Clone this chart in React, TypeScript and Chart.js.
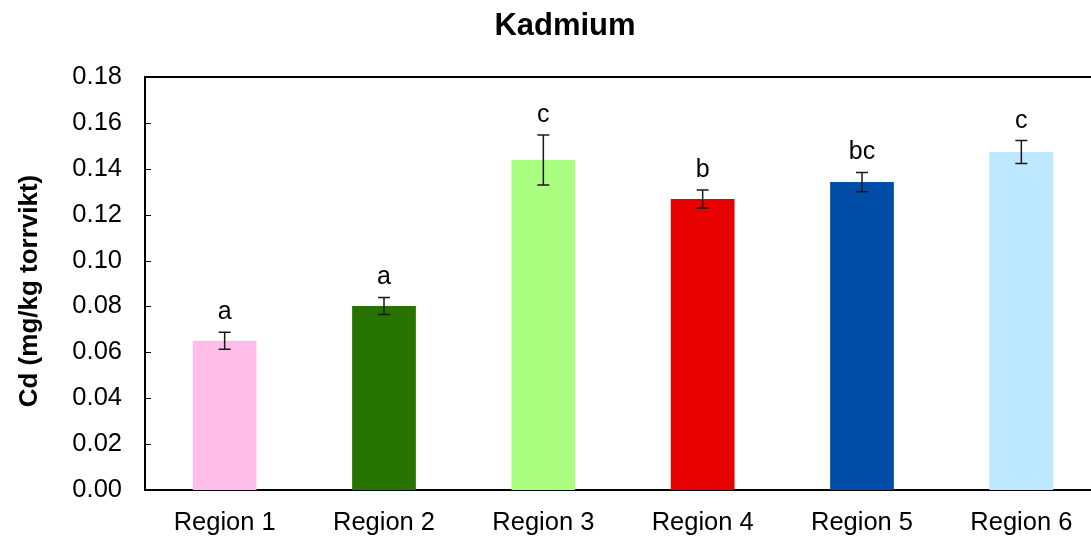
import React, { useEffect, useRef } from "react";
import { Chart, registerables } from "chart.js";

Chart.register(...registerables);

const regions = ["Region 1", "Region 2", "Region 3", "Region 4", "Region 5", "Region 6"];
const means = [0.065, 0.0802, 0.1438, 0.1268, 0.1342, 0.1473];
const errors = [0.0037, 0.0037, 0.0109, 0.0039, 0.0042, 0.005];
const letters = ["a", "a", "c", "b", "bc", "c"];
const barColors = ["#FFBEE8", "#267300", "#AAFF80", "#E60000", "#004DA8", "#BEE8FF"];
const yTicks = [0, 0.02, 0.04, 0.06, 0.08, 0.1, 0.12, 0.14, 0.16, 0.18];

const FONT = "'Liberation Sans', Arial, Helvetica, sans-serif";

const decorPlugin = {
  id: "decor",
  afterDatasetsDraw(chart: any) {
    const ctx = chart.ctx;
    const ys = chart.scales.y;
    const area = chart.chartArea;
    const meta = chart.getDatasetMeta(0);
    ctx.save();
    // frame top/right
    ctx.strokeStyle = "#000";
    ctx.lineWidth = 2;
    ctx.beginPath();
    ctx.moveTo(area.left, area.top);
    ctx.lineTo(area.right, area.top);
    ctx.lineTo(area.right, area.bottom);
    ctx.stroke();
    // inner ticks on y
    ctx.lineWidth = 1;
    yTicks.forEach((v) => {
      const y = Math.round(ys.getPixelForValue(v)) + 0.5;
      ctx.beginPath();
      ctx.moveTo(area.left, y);
      ctx.lineTo(area.left + 6, y);
      ctx.stroke();
    });
    // error bars and letters
    meta.data.forEach((el: any, i: number) => {
      const x = el.x;
      const yt = ys.getPixelForValue(means[i] + errors[i]);
      const yb = ys.getPixelForValue(means[i] - errors[i]);
      ctx.strokeStyle = "#1a1a1a";
      ctx.lineWidth = 1.5;
      ctx.beginPath();
      ctx.moveTo(x, yt);
      ctx.lineTo(x, yb);
      ctx.moveTo(x - 6, yt);
      ctx.lineTo(x + 6, yt);
      ctx.moveTo(x - 6, yb);
      ctx.lineTo(x + 6, yb);
      ctx.stroke();
      ctx.fillStyle = "#000";
      ctx.font = `25px ${FONT}`;
      ctx.textAlign = "center";
      ctx.textBaseline = "alphabetic";
      ctx.fillText(letters[i], x, yt - 13);
    });
    // title
    ctx.fillStyle = "#000";
    ctx.font = `bold 31px ${FONT}`;
    ctx.textAlign = "center";
    ctx.textBaseline = "middle";
    ctx.fillText("Kadmium", 565, 26);
    // y title
    ctx.font = `bold 26px ${FONT}`;
    ctx.translate(30, 291);
    ctx.rotate(-Math.PI / 2);
    ctx.fillText("Cd (mg/kg torrvikt)", 0, 0);
    ctx.restore();
  },
};

export default function App() {
  const ref = useRef<HTMLCanvasElement | null>(null);
  useEffect(() => {
    if (!ref.current) return;
    const chart = new Chart(ref.current, {
      type: "bar",
      data: {
        labels: regions,
        datasets: [
          {
            data: means,
            backgroundColor: barColors,
            borderWidth: 0,
            barPercentage: 0.4,
            categoryPercentage: 1,
          },
        ],
      },
      options: {
        responsive: false,
        animation: false,
        devicePixelRatio: 1,
        layout: { padding: { top: 77, right: 9, left: 0, bottom: 0 } },
        plugins: { legend: { display: false }, tooltip: { enabled: false }, title: { display: false } },
        scales: {
          x: {
            grid: { display: false, drawTicks: false },
            border: { display: true, color: "#000", width: 2 },
            ticks: { color: "#000", font: { family: FONT, size: 25.5 }, padding: 18, maxRotation: 0 },
            afterFit: (s: any) => {
              s.height = 46;
            },
          },
          y: {
            min: 0,
            max: 0.18,
            grid: { display: false, drawTicks: false },
            border: { display: true, color: "#000", width: 2 },
            afterBuildTicks: (s: any) => {
              s.ticks = yTicks.map((v) => ({ value: v }));
            },
            ticks: {
              color: "#000",
              font: { family: FONT, size: 25.5 },
              padding: 23,
              callback: (v: any) => Number(v).toFixed(2),
            },
            afterFit: (s: any) => {
              s.width = 145;
            },
          },
        },
      },
      plugins: [decorPlugin],
    });
    return () => chart.destroy();
  }, []);
  return (
    <div style={{ position: "fixed", left: 0, top: 0, width: 1091, height: 536, overflow: "hidden", background: "#fff" }}>
      <canvas ref={ref} width={1110} height={536} style={{ width: 1110, height: 536, display: "block" }} />
    </div>
  );
}
